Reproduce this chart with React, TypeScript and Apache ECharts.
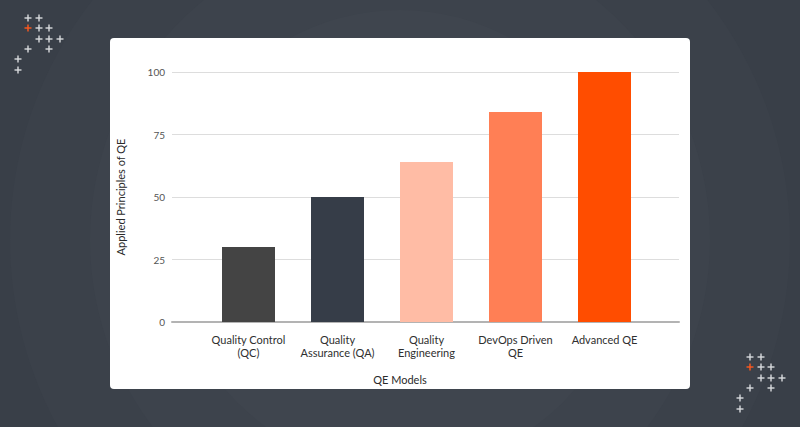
import React, { useEffect, useRef } from "react";
import * as echarts from "echarts";

const categories = [
  "Quality Control\n(QC)",
  "Quality\nAssurance (QA)",
  "Quality\nEngineering",
  "DevOps Driven\nQE",
  "Advanced QE",
];
const values = [30, 50, 64, 84, 100];
const barColors = ["#444444", "#363d48", "#ffbca5", "#ff7f55", "#ff4d00"];
const yTicks = [0, 25, 50, 75, 100];
const xAxisTitle = "QE Models";
const yAxisTitle = "Applied Principles of QE";

// plus-sign decoration pattern (relative offsets), first index = red
const plusPattern: [number, number, boolean][] = [
  [10, 0, false], [21, 0, false],
  [10, 10, true], [21, 10, false], [31, 10, false],
  [21, 21, false], [31, 21, false], [42, 21, false],
  [10, 31, false], [31, 31, false],
  [0, 41, false],
  [0, 52, false],
];

function plusGroup(ox: number, oy: number) {
  const children: any[] = [];
  plusPattern.forEach(([dx, dy, red]) => {
    const cx = ox + dx;
    const cy = oy + dy;
    const stroke = red ? "#ff5a1f" : "#d9dbde";
    children.push({
      type: "line",
      shape: { x1: cx - 3.5, y1: cy, x2: cx + 3.5, y2: cy },
      style: { stroke, lineWidth: 1.4 },
    });
    children.push({
      type: "line",
      shape: { x1: cx, y1: cy - 3.5, x2: cx, y2: cy + 3.5 },
      style: { stroke, lineWidth: 1.4 },
    });
  });
  return { type: "group", children };
}

export default function App() {
  const ref = useRef<HTMLDivElement>(null);
  useEffect(() => {
    if (!ref.current) return;
    const chart = echarts.init(ref.current, null, { renderer: "svg" });
    const font = "Lato, 'Noto Sans', sans-serif";
    const bgCircles = [
      { r: 560, c: "#373d46" },
      { r: 470, c: "#393f48" },
      { r: 390, c: "#3b414a" },
      { r: 310, c: "#3d434c" },
      { r: 230, c: "#3f454e" },
    ].map((b) => ({
      type: "circle",
      z: -10,
      shape: { cx: 400, cy: 240, r: b.r },
      style: { fill: b.c },
      silent: true,
    }));
    chart.setOption({
      animation: false,
      backgroundColor: "#353b44",
      textStyle: { fontFamily: font },
      graphic: [
        ...bgCircles,
        {
          type: "rect",
          z: -5,
          shape: { x: 110, y: 38, width: 580, height: 351, r: 4 },
          style: { fill: "#ffffff" },
          silent: true,
        },
        { ...plusGroup(18, 18), z: 1 },
        { ...plusGroup(740, 357), z: 1 },
        {
          type: "text",
          x: 400,
          y: 379,
          style: {
            text: xAxisTitle,
            fill: "#2a2a2a",
            font: `11px ${font}`,
            align: "center",
            verticalAlign: "middle",
          },
        },
      ],
      grid: [
        { left: 172, right: 121, top: 72, bottom: 105 },
        { left: 204, right: 151, top: 72, bottom: 105 },
      ],
      xAxis: [
        {
          gridIndex: 0,
          type: "value",
          min: 0,
          max: 1,
          axisLine: { show: true, lineStyle: { color: "#b3b3b3", width: 2 } },
          axisTick: { show: false },
          axisLabel: { show: false },
          splitLine: { show: false },
        },
        {
          gridIndex: 1,
          type: "category",
          data: categories,
          axisLine: { show: false },
          axisTick: { show: false },
          axisLabel: {
            interval: 0,
            fontSize: 11,
            color: "#2f2f2f",
            margin: 11,
            lineHeight: 13,
            fontFamily: font,
          },
        },
      ],
      yAxis: [
        {
          gridIndex: 0,
          type: "value",
          min: yTicks[0],
          max: yTicks[yTicks.length - 1],
          interval: 25,
          name: yAxisTitle,
          nameLocation: "middle",
          nameGap: 46,
          nameTextStyle: { fontSize: 11, color: "#2a2a2a", fontFamily: font },
          axisLine: { show: false },
          axisTick: { show: false },
          axisLabel: { fontSize: 10, color: "#555555", margin: 7, fontFamily: font },
          splitLine: { lineStyle: { color: "#dddddd", width: 1 } },
        },
        {
          gridIndex: 1,
          type: "value",
          min: 0,
          max: 100,
          show: false,
          splitLine: { show: false },
        },
      ],
      series: [
        {
          type: "bar",
          xAxisIndex: 1,
          yAxisIndex: 1,
          barWidth: 53,
          data: values.map((v, i) => ({ value: v, itemStyle: { color: barColors[i] } })),
        },
      ],
    });
    return () => chart.dispose();
  }, []);
  return (
    <div
      ref={ref}
      style={{ position: "fixed", left: 0, top: 0, width: 800, height: 427 }}
    />
  );
}
